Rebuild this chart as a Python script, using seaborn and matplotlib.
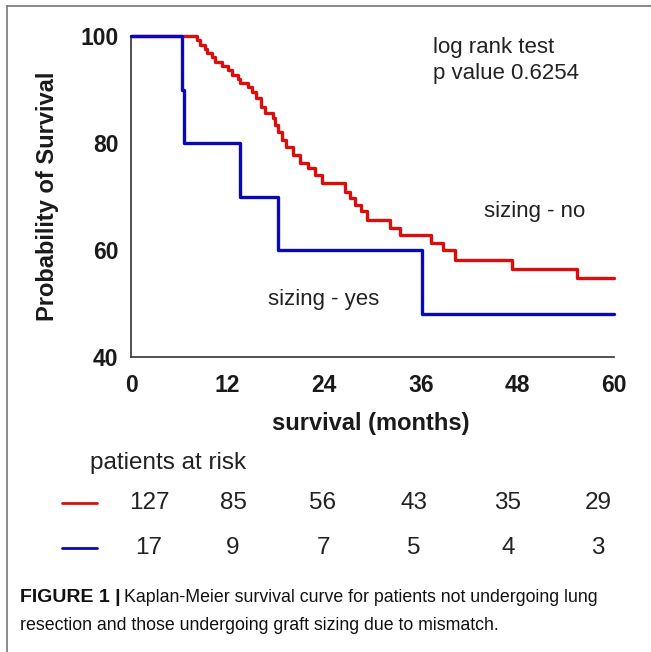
import matplotlib
matplotlib.use("Agg")
import matplotlib.pyplot as plt
from matplotlib.lines import Line2D
import seaborn as sns
import pandas as pd

# ---- data ----
no_time = [0, 8.2, 8.6, 9.2, 9.4, 10.0, 10.4, 11.3, 12.0, 12.5, 13.3, 13.5, 14.5, 15.0,
           15.5, 16.2, 16.6, 17.6, 17.9, 18.3, 18.7, 19.3, 20.1, 21.0, 22.0, 22.8, 23.7,
           26.6, 27.2, 27.8, 28.6, 29.3, 32.2, 33.4, 37.3, 38.8, 40.3, 47.3, 55.4, 60]
no_surv = [100, 99.2, 98.4, 97.6, 96.8, 96.0, 95.2, 94.4, 93.6, 92.8, 92.0, 91.2, 90.4, 89.6,
           88.4, 86.8, 85.6, 84.7, 83.4, 82.1, 80.6, 79.3, 77.8, 76.2, 75.3, 74.0, 72.5,
           70.9, 69.7, 68.4, 67.2, 65.6, 64.1, 62.8, 61.4, 60.0, 58.2, 56.5, 54.8, 54.8]
yes_time = [0, 6.3, 6.6, 13.5, 18.3, 36.1, 60]
yes_surv = [100, 90, 80, 70, 60, 48, 48]

risk_times = [0, 12, 24, 36, 48, 60]
risk_no = [127, 85, 56, 43, 35, 29]
risk_yes = [17, 9, 7, 5, 4, 3]

RED = "#d90f0f"
BLUE = "#0a0ab4"

sns.set_style("white")
plt.rcParams["font.family"] = ["Liberation Sans", "DejaVu Sans"]

W, H = 651, 652
fig = plt.figure(figsize=(W / 100, H / 100), dpi=100)


def fx(px):
    return px / W


def fy(py):
    return 1 - py / H


ax = fig.add_axes([fx(131), fy(357), fx(614) - fx(131), fy(36) - fy(357)])

df_no = pd.DataFrame({"t": no_time, "s": no_surv})
df_yes = pd.DataFrame({"t": yes_time, "s": yes_surv})
sns.lineplot(data=df_no, x="t", y="s", ax=ax, color=RED, lw=2.4, drawstyle="steps-post",
             estimator=None, sort=False, clip_on=False, zorder=3)
sns.lineplot(data=df_yes, x="t", y="s", ax=ax, color=BLUE, lw=2.4, drawstyle="steps-post",
             estimator=None, sort=False, clip_on=False, zorder=4)

ax.set_xlim(0, 60)
ax.set_ylim(40, 100)
ax.set_xticks(risk_times)
ax.set_yticks([40, 60, 80, 100])
for s in ["top", "right"]:
    ax.spines[s].set_visible(False)
for s in ["left", "bottom"]:
    ax.spines[s].set_color("#333333")
    ax.spines[s].set_linewidth(1.2)
ax.tick_params(axis="both", which="major", direction="out", length=6, width=1.2,
               color="#333333", labelsize=16.5, pad=3, labelcolor="#1a1a1a")
ax.tick_params(axis="x", pad=6)
for lab in ax.get_xticklabels() + ax.get_yticklabels():
    lab.set_fontweight("bold")
ax.set_xlabel("survival (months)", fontsize=17, fontweight="bold", color="#1a1a1a")
ax.set_ylabel("Probability of Survival", fontsize=17, fontweight="bold", color="#1a1a1a")
ax.xaxis.set_label_coords((371 - 131) / 483, (357 - 424) / 321)
ax.xaxis.label.set_va("center")
ax.yaxis.set_label_coords((48 - 131) / 483, (357 - 196) / 321)
ax.yaxis.label.set_va("center")

TXT = "#222222"
fig.text(fx(433), fy(47), "log rank test", fontsize=16, va="center", ha="left", color=TXT)
fig.text(fx(433), fy(73), "p value 0.6254", fontsize=16, va="center", ha="left", color=TXT)
fig.text(fx(484), fy(211), "sizing - no", fontsize=16, va="center", ha="left", color=TXT)
fig.text(fx(268), fy(300), "sizing - yes", fontsize=16, va="center", ha="left", color=TXT)

# ---- patients at risk table ----
col_px = [149, 233, 323, 414, 508, 598]
fig.text(fx(90), fy(463), "patients at risk", fontsize=17.5, va="center", ha="left",
         color=TXT)
for px, n in zip(col_px, risk_no):
    fig.text(fx(px), fy(503), str(n), fontsize=17.5, va="center", ha="center", color=TXT)
for px, n in zip(col_px, risk_yes):
    fig.text(fx(px), fy(548), str(n), fontsize=17.5, va="center", ha="center", color=TXT)
fig.add_artist(Line2D([fx(62), fx(97)], [fy(503), fy(503)], color=RED, lw=2.0,
                      transform=fig.transFigure))
fig.add_artist(Line2D([fx(62), fx(97)], [fy(548), fy(548)], color=BLUE, lw=2.0,
                      transform=fig.transFigure))

# ---- frame lines ----
fig.add_artist(Line2D([fx(7), 1], [fy(6), fy(6)], color="#777777", lw=1.2,
                      transform=fig.transFigure))
fig.add_artist(Line2D([fx(7), fx(7)], [fy(6), 0], color="#777777", lw=1.2,
                      transform=fig.transFigure))

# ---- caption ----
cap_font = ["Liberation Sans Narrow", "Liberation Sans", "DejaVu Sans"]
t1 = fig.text(fx(20), fy(598), "FIGURE 1 |", fontsize=14, fontweight="bold",
              family=cap_font, va="center", ha="left", color="#111111")
fig.canvas.draw()
bb = t1.get_window_extent(renderer=fig.canvas.get_renderer())
fig.text((bb.x1 + 3) / W, fy(598),
         "Kaplan-Meier survival curve for patients not undergoing lung",
         fontsize=12.8, family=cap_font, va="center", ha="left", color="#111111")
fig.text(fx(20), fy(625), "resection and those undergoing graft sizing due to mismatch.",
         fontsize=12.8, family=cap_font, va="center", ha="left", color="#111111")

fig.savefig("out.png", dpi=100)
